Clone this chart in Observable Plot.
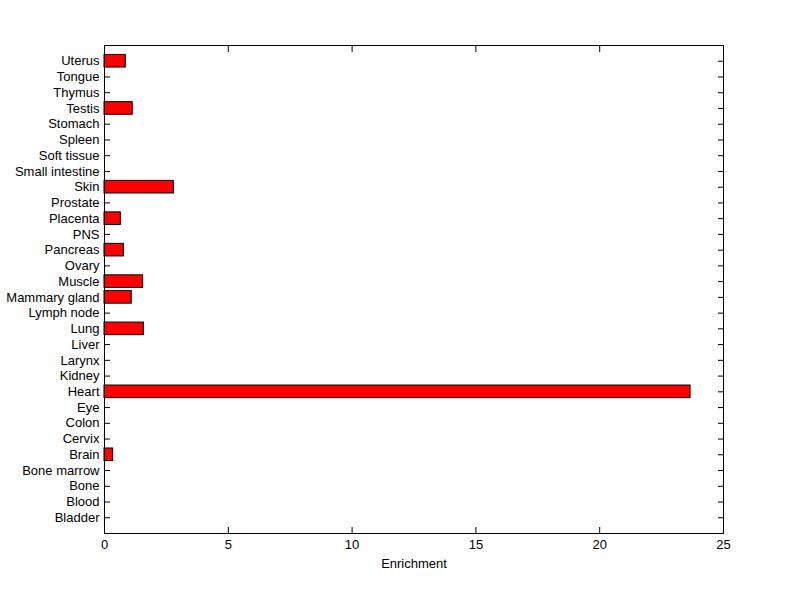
<!DOCTYPE html>
<html>
<head>
<meta charset="utf-8">
<script src="https://cdn.jsdelivr.net/npm/d3@7"></script>
<script src="https://cdn.jsdelivr.net/npm/@observablehq/plot@0.6"></script>
<style>
  html, body { margin: 0; padding: 0; background: #fff; }
  #chart svg { display: block; }
</style>
</head>
<body>
<div id="chart"></div>
<script>
const tissues = ["Bladder","Blood","Bone","Bone marrow","Brain","Cervix","Colon","Eye","Heart","Kidney","Larynx","Liver","Lung","Lymph node","Mammary gland","Muscle","Ovary","Pancreas","PNS","Placenta","Prostate","Skin","Small intestine","Soft tissue","Spleen","Stomach","Testis","Thymus","Tongue","Uterus"];
const enrichment = [0,0,0,0,0.35,0,0,0,23.67,0,0,0,1.59,0,1.10,1.56,0,0.78,0,0.66,0,2.80,0,0,0,0,1.14,0,0,0.86];
const xTicks = [0,5,10,15,20,25];
const xLabel = "Enrichment";

const data = tissues.map((t, i) => ({tissue: t, value: enrichment[i]}));
const T = 6;

const chart = Plot.plot({
  width: 800,
  height: 599,
  marginLeft: 104,
  marginRight: 77,
  marginTop: 45,
  marginBottom: 66,
  style: {fontFamily: "'Liberation Sans', Arial, sans-serif", fontSize: "13px", background: "#fff", color: "#000"},
  x: {domain: [0, 25]},
  y: {type: "band", domain: tissues.slice().reverse(), paddingInner: 0.2, paddingOuter: 0.6, round: false},
  marks: [
    Plot.axisX({anchor: "bottom", ticks: xTicks, tickSize: T, dy: -T, tickPadding: 6, label: null, strokeOpacity: 1}),
    Plot.axisX({anchor: "top", ticks: xTicks, tickSize: T, dy: T, tickFormat: () => "", label: null, strokeOpacity: 1}),
    Plot.axisY({anchor: "left", tickSize: T, dx: T, tickPadding: 5, label: null, strokeOpacity: 1}),
    Plot.axisY({anchor: "right", tickSize: T, dx: -T, tickFormat: () => "", label: null, strokeOpacity: 1}),
    Plot.barX(data.filter(d => d.value > 0), {x: "value", y: "tissue", fill: "#ff0000", stroke: "#000", strokeWidth: 1}),
    Plot.frame({stroke: "#000", strokeWidth: 1}),
    Plot.text([xLabel], {frameAnchor: "bottom", dy: 34, text: d => d, fill: "#000"})
  ]
});
document.getElementById("chart").appendChild(chart);
</script>
</body>
</html>
